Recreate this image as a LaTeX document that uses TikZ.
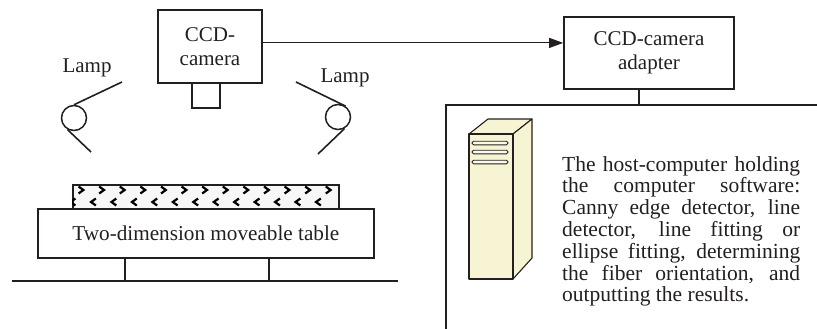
\documentclass[tikz,border=0pt]{standalone}
\usepackage{fontspec}
\setmainfont{Liberation Serif}
\usetikzlibrary{arrows.meta,calc}
\definecolor{ink}{HTML}{231F20}
\definecolor{cream}{HTML}{F7F4D4}
\definecolor{stripfill}{HTML}{F7F7F7}

\begin{document}
\begin{tikzpicture}[x=1pt,y=-1pt,
  every node/.style={text=ink},
  frame/.style={draw=ink, line width=1.7pt},
  box/.style={frame, rectangle, inner sep=0pt, align=center,
    font=\fontsize{21}{24}\selectfont},
  wire/.style={draw=ink, line width=1.1pt},
  reflector/.style={draw=ink, line width=1.6pt},
  lampbulb/.style={circle, draw=ink, line width=1.5pt, minimum size=25pt, inner sep=0pt},
  caption/.style={font=\fontsize{21}{24}\selectfont, inner sep=0pt},
  chev/.style={draw=black, line width=2.2pt},
]
\useasboundingbox (0,0) rectangle (817,329);

% camera with its lens
\node[box, minimum width=104pt, minimum height=73pt] (cam) at (210,46.5) {CCD-\\camera};
\node[frame, minimum width=28pt, minimum height=25pt, inner sep=0pt] (lens) at (206,95.5) {};

% camera adapter
\node[box, minimum width=170pt, minimum height=72pt] (adapt) at (649,53) {CCD-camera\\adapter};

% signal from camera to adapter
\draw[wire, -{Triangle[length=14pt,width=10pt]}]
  ($(cam.north east)!0.452!(cam.south east)$) coordinate (camout) -- (camout -| adapt.west);

% host computer frame (open towards the right and bottom)
\coordinate (hostcorner) at (446,105);
\coordinate (hostright) at (817,105);
\coordinate (hostbottom) at (446,329);
\draw[frame] (hostright) -- (hostcorner) -- (hostbottom);
\coordinate (tap) at (639,105);
\draw[wire] (tap |- adapt.south) -- (tap);

% tower case
\begin{scope}[draw=ink, line width=1.1pt, line join=round]
  \filldraw[fill=cream] (469,134) -- (488,119) -- (532,119) -- (513,134) -- cycle;
  \filldraw[fill=cream] (513,134) -- (532,119) -- (532,258) -- (513,279) -- cycle;
  \filldraw[fill=cream] (469,134) rectangle (513,279);
  \foreach \y in {143,152,162}
    \filldraw[fill=cream!50!white, line width=0.9pt, rounded corners=1.5pt]
      (472,\y-1.8) rectangle (508,\y+1.8);
\end{scope}

% host software description
\node[anchor=north west, inner sep=0pt, text width=238pt, align=justify,
      font=\fontsize{21.5}{21.8}\selectfont] (hosttext) at (562,156)
  {The host-computer holding\linebreak
   the computer software:\linebreak
   Canny edge detector, line\linebreak
   detector, line fitting or\linebreak
   ellipse fitting, determining\linebreak
   the fiber orientation, and\linebreak
   outputting the results.};

% lamps
\node[lampbulb] (lampL) at (74,118) {};
\coordinate (lampLtop) at (122,82);
\coordinate (lampLbot) at (91,152);
\draw[reflector] (lampL.90) -- (lampLtop);
\draw[reflector] (lampL.240) -- (lampLbot);
\node[caption, anchor=base] (lampLlabel) at (87,73) {Lamp};

\node[lampbulb] (lampR) at (338,117) {};
\coordinate (lampRtop) at (296,82);
\coordinate (lampRbot) at (318,154);
\draw[reflector] (lampR.55) -- (lampRtop);
\draw[reflector] (lampR.-60) -- (lampRbot);
\node[caption, anchor=base] (lampRlabel) at (345,82) {Lamp};

% fiber sample on the table
\node[frame, line width=1.5pt, fill=stripfill, minimum width=266pt, minimum height=24pt,
      inner sep=0pt, anchor=north west] (strip) at (72,184) {};
\begin{scope}
  \clip (72,184) rectangle (338,208);
  \foreach \i in {0,...,12}
    \draw[chev] ({81+20.6*\i-2.4},186.5) -- ++(4.8,3.5) -- ++(-4.8,3.5);
  \foreach \i in {0,...,12}
    \draw[chev] ({73+20.45*\i+2.4},198.5) -- ++(-4.8,3.5) -- ++(4.8,3.5);
\end{scope}

% moveable table
\node[frame, minimum width=336pt, minimum height=49pt, inner sep=0pt, anchor=north west,
      font=\fontsize{21.2}{24}\selectfont] (table) at (37,208) {Two-dimension moveable table};
\coordinate (legA) at (125,281);
\coordinate (legB) at (269,281);
\draw[wire, line width=1.4pt] (legA |- table.south) -- (legA);
\draw[wire, line width=1.4pt] (legB |- table.south) -- (legB);
\coordinate (groundL) at (12,281);
\coordinate (groundR) at (398,281);
\draw[wire, line width=1.4pt] (groundL) -- (groundR);
\end{tikzpicture}
\end{document}
